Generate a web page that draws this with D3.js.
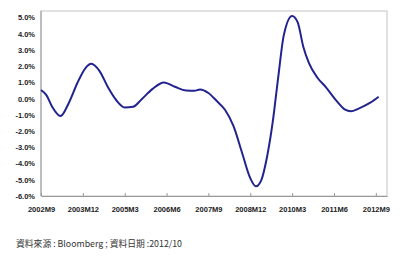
<!DOCTYPE html>
<html>
<head>
<meta charset="utf-8">
<script src="https://cdn.jsdelivr.net/npm/d3@7"></script>
<style>
  body { margin: 0; background: #fff; }
  svg { display: block; }
  .axis text { font-family: "Liberation Sans", Arial, sans-serif; font-size: 7.5px; font-weight: bold; fill: #222; }
  .source { font-family: "Noto Sans CJK TC", "Liberation Sans", sans-serif; font-size: 8.8px; fill: #333; }
</style>
</head>
<body>
<svg id="chart"></svg>
<script>
// month labels of the sampled points and their values (%)
const months = ['2002M9', '2002M11', '2003M1', '2003M4', '2003M7', '2003M10', '2004M1', '2004M3',
  '2004M6', '2004M9', '2004M12', '2005M3', '2005M6', '2005M9', '2006M1', '2006M5', '2006M9',
  '2007M1', '2007M4', '2007M6', '2007M9', '2007M12', '2008M3', '2008M6', '2008M9', '2008M12',
  '2009M2', '2009M4', '2009M6', '2009M8', '2009M10', '2009M12', '2010M3', '2010M5', '2010M7',
  '2010M9', '2010M12', '2011M3', '2011M7', '2011M10', '2011M12', '2012M3', '2012M7', '2012M10'];
const values = [0.53, 0.2, -0.5, -1.07, -0.25, 0.95, 1.9, 2.15,
  1.7, 0.7, -0.1, -0.54, -0.5, -0.05, 0.6, 1.0, 0.73,
  0.5, 0.48, 0.57, 0.35, -0.15, -0.7, -1.7, -3.3, -4.9,
  -5.4, -5.0, -3.6, -1.5, 1.3, 3.9, 5.1, 4.7, 3.2,
  2.2, 1.3, 0.73, -0.15, -0.68, -0.78, -0.6, -0.25, 0.12];
const xTickLabels = ['2002M9', '2003M12', '2005M3', '2006M6', '2007M9', '2008M12', '2010M3', '2011M6', '2012M9'];
const yTicks = [5, 4, 3, 2, 1, 0, -1, -2, -3, -4, -5, -6];
const sourceText = '資料來源 : Bloomberg ; 資料日期 :2012/10';

const width = 400, height = 260;
const plot = { left: 41, right: 387, top: 11, bottom: 196 };

// month index counted from 2002M9
const monthIndex = s => {
  const [y, m] = s.split('M').map(Number);
  return (y - 2002) * 12 + (m - 9);
};

const svg = d3.select('#chart').attr('width', width).attr('height', height);

const x = d3.scaleLinear().domain([0, 124]).range([plot.left, plot.right]);
const y = d3.scaleLinear().domain([-6, 5]).range([plot.bottom, 17.5]);

// frame
svg.append('rect')
  .attr('x', plot.left).attr('y', plot.top)
  .attr('width', plot.right - plot.left).attr('height', plot.bottom - plot.top)
  .attr('fill', 'none').attr('stroke', '#c4c4c4').attr('stroke-width', 1);

const xAxis = d3.axisBottom(x)
  .tickValues(xTickLabels.map(monthIndex))
  .tickFormat((d, i) => xTickLabels[i])
  .tickSize(-3).tickSizeOuter(0).tickPadding(11);

const gx = svg.append('g').attr('class', 'axis')
  .attr('transform', `translate(0,${plot.bottom})`)
  .call(xAxis);
gx.select('.domain').attr('stroke', '#999');
gx.selectAll('.tick line').attr('stroke', '#999');

const yAxis = d3.axisLeft(y)
  .tickValues(yTicks)
  .tickFormat(d => d.toFixed(1) + '%')
  .tickSize(0).tickPadding(6);

const gy = svg.append('g').attr('class', 'axis')
  .attr('transform', `translate(${plot.left},0)`)
  .call(yAxis);
gy.select('.domain').remove();
gy.append('line')
  .attr('y1', plot.top).attr('y2', plot.bottom)
  .attr('stroke', '#999');

const data = months.map((m, i) => ({ m: monthIndex(m), v: values[i] }));

const line = d3.line()
  .x(d => x(d.m))
  .y(d => y(d.v))
  .curve(d3.curveMonotoneX);

svg.append('path')
  .datum(data)
  .attr('d', line)
  .attr('fill', 'none')
  .attr('stroke', '#23238f')
  .attr('stroke-width', 2)
  .attr('stroke-linejoin', 'round');

svg.append('text')
  .attr('class', 'source')
  .attr('x', 16).attr('y', 247)
  .text(sourceText);
</script>
</body>
</html>
